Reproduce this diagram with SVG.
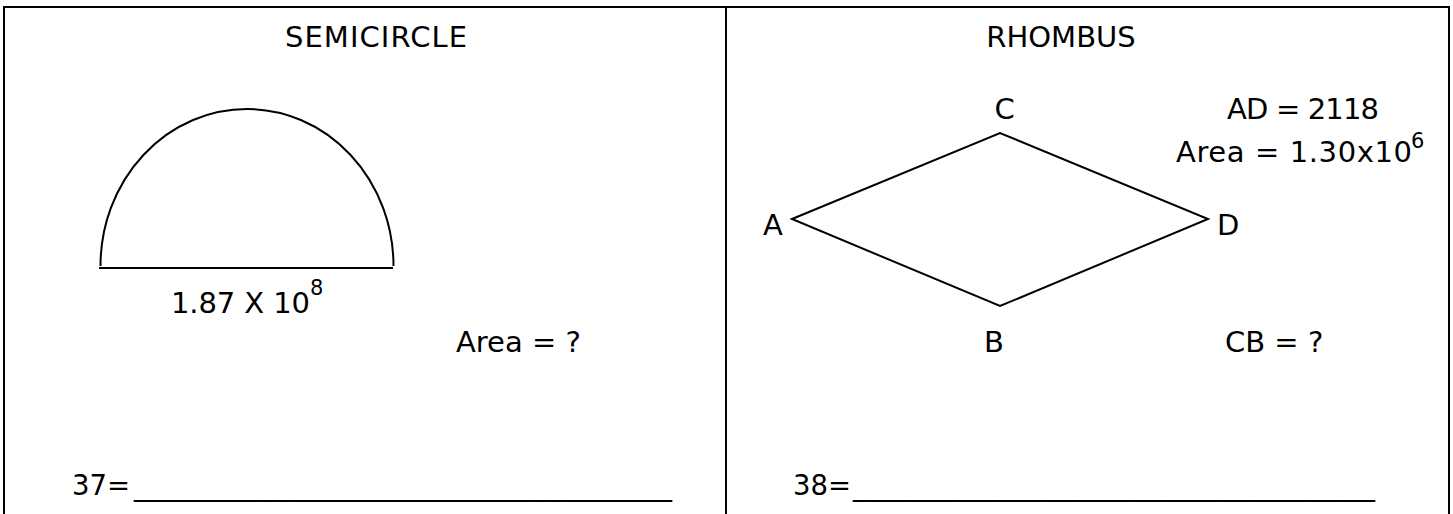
<svg xmlns="http://www.w3.org/2000/svg" width="1453" height="514" viewBox="0 0 1453 514">
<style>
text{font-family:"DejaVu Sans","Verdana",sans-serif;font-size:29px;fill:#000}
.sup{font-size:21px}
.frame{stroke:#000;stroke-width:2;fill:none}
.shape{stroke:#000;fill:none;stroke-width:2}
</style>
<rect x="0" y="0" width="1453" height="514" fill="#fff"/>
<g id="frame">
<line class="frame" x1="3" y1="7" x2="1449" y2="7"/>
<line class="frame" x1="4" y1="6" x2="4" y2="514"/>
<line class="frame" x1="726" y1="6" x2="726" y2="514"/>
<line class="frame" x1="1449" y1="6" x2="1449" y2="514"/>
</g>
<g id="semicircle-panel">
<text x="376" y="47" text-anchor="middle" textLength="182" lengthAdjust="spacing">SEMICIRCLE</text>
<g id="semicircle">
<path class="shape" stroke-width="1.6" d="M100.5,266 A146.5,157 0 0 1 393.5,266"/>
<line class="shape" stroke-width="2.6" x1="99" y1="268" x2="393" y2="268"/>
</g>
<text x="171" y="313" textLength="139" lengthAdjust="spacing">1.87 X 10</text>
<text class="sup" x="310" y="295">8</text>
<text x="456" y="352">Area = ?</text>
<text x="72" y="495" textLength="58" lengthAdjust="spacingAndGlyphs">37=</text>
<text x="134" y="495" textLength="538" lengthAdjust="spacingAndGlyphs">______________________________</text>
</g>
<g id="rhombus-panel">
<text x="1061" y="47" text-anchor="middle">RHOMBUS</text>
<g id="rhombus">
<polygon class="shape" points="792,219 1000,133 1208,219 1000,306"/>
</g>
<text x="1004.5" y="119" text-anchor="middle">C</text>
<text x="763" y="235">A</text>
<text x="1217" y="235">D</text>
<text x="994" y="352" text-anchor="middle">B</text>
<text x="1227" y="119" textLength="152" lengthAdjust="spacing">AD = 2118</text>
<text x="1176" y="162" textLength="236" lengthAdjust="spacing">Area = 1.30x10</text>
<text class="sup" x="1411" y="148">6</text>
<text x="1225" y="352">CB = ?</text>
<text x="793" y="495" textLength="58" lengthAdjust="spacingAndGlyphs">38=</text>
<text x="853" y="495" textLength="522" lengthAdjust="spacingAndGlyphs">______________________________</text>
</g>
</svg>
